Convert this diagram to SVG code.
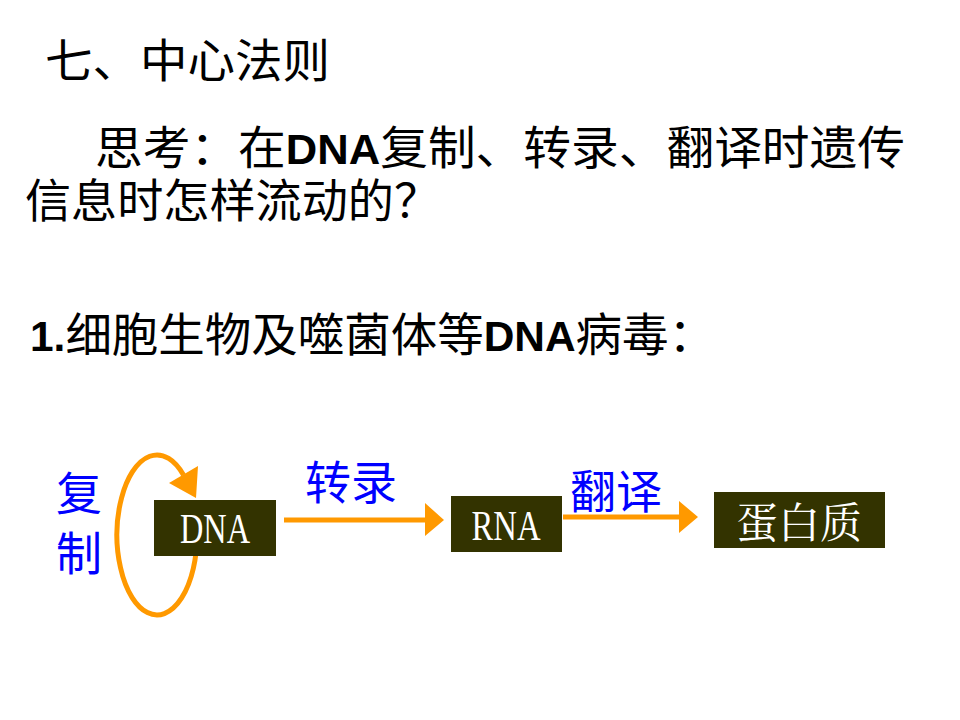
<svg xmlns="http://www.w3.org/2000/svg" width="960" height="720" viewBox="0 0 960 720">
<style>
.t{font-family:"Noto Sans CJK SC","Liberation Sans",sans-serif;font-size:46px;fill:#000}
.b{font-family:"Liberation Sans",sans-serif;font-weight:bold}
.lbl{font-family:"Noto Sans CJK SC",sans-serif;font-size:46px;fill:#0000ff}
.box{fill:#333300}
.bt{font-family:"Liberation Serif","Noto Serif CJK SC","Noto Sans CJK SC",serif;font-size:42px;fill:#fff;text-anchor:middle}
.ln{stroke:#ff9900;stroke-width:5;fill:none}
.ah{fill:#ff9900}
</style>
<rect width="960" height="720" fill="#fff"/>
<text class="t" x="45" y="77" textLength="285" lengthAdjust="spacingAndGlyphs">七、中心法则</text>
<text class="t" x="95" y="164" textLength="810" lengthAdjust="spacingAndGlyphs">思考：在<tspan class="b" font-size="42">DNA</tspan>复制、转录、翻译时遗传</text>
<text class="t" x="25" y="217" textLength="415" lengthAdjust="spacingAndGlyphs">信息时怎样流动的？</text>
<text class="t" x="30" y="351" textLength="685" lengthAdjust="spacingAndGlyphs"><tspan class="b" font-size="42">1.</tspan>细胞生物及噬菌体等<tspan class="b" font-size="42">DNA</tspan>病毒：</text>
<g id="connectors">
<path class="ln" d="M197,535 A40,80 0 1 1 183.5,475"/>
<polygon class="ah" points="196,498 169,483 198,466"/>
<line class="ln" x1="284" y1="520" x2="426" y2="520"/>
<polygon class="ah" points="425,503 444,520 425,536"/>
<line class="ln" x1="563" y1="517" x2="680" y2="517"/>
<polygon class="ah" points="679,501 698,517 679,533"/>
</g>
<g id="label-replication">
<text class="lbl" x="56" y="510">复</text>
<text class="lbl" x="56" y="570">制</text>
</g>
<g id="label-transcription"><text class="lbl" x="305" y="499">转录</text></g>
<g id="label-translation"><text class="lbl" x="570" y="508">翻译</text></g>
<g id="node-dna">
<rect class="box" x="154" y="500" width="122" height="56"/>
<text class="bt" x="215" y="543" textLength="70" lengthAdjust="spacingAndGlyphs">DNA</text>
</g>
<g id="node-rna">
<rect class="box" x="451" y="496" width="111" height="56"/>
<text class="bt" x="506" y="540" textLength="69" lengthAdjust="spacingAndGlyphs">RNA</text>
</g>
<g id="node-protein">
<rect class="box" x="714" y="492" width="171" height="56"/>
<text class="bt" x="799" y="538" font-size="46" font-family="Noto Serif CJK SC,Noto Sans CJK SC,serif">蛋白质</text>
</g>
</svg>
